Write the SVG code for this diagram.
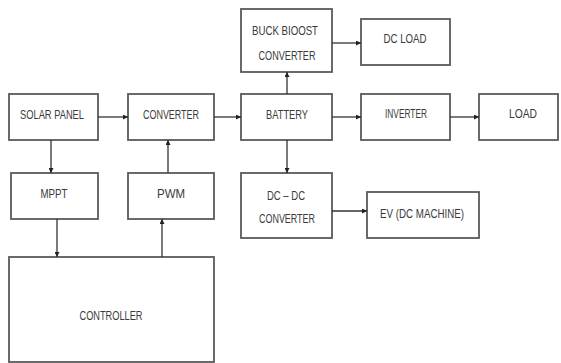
<svg xmlns="http://www.w3.org/2000/svg" width="561" height="363" viewBox="0 0 561 363">
<style>
.box{fill:#fff;stroke:#5a5a5a;stroke-width:1.8}
.lbl{font-family:"Liberation Sans",Arial,sans-serif;font-size:13px;fill:#3a3a3a;text-anchor:middle}
.con{stroke:#333;stroke-width:1.3;fill:none;marker-end:url(#ah)}
</style>
<defs>
<marker id="ah" viewBox="0 0 10 10" refX="10" refY="5" markerWidth="6" markerHeight="5" markerUnits="userSpaceOnUse" orient="auto">
<path d="M0,0 L10,5 L0,10 z" fill="#222"/>
</marker>
</defs>
<rect width="561" height="363" fill="#fff"/>
<g id="solar"><rect class="box" x="9" y="94" width="89" height="46"/><text class="lbl" x="52" y="119" textLength="64" lengthAdjust="spacingAndGlyphs">SOLAR PANEL</text></g>
<g id="converter"><rect class="box" x="128" y="94" width="86" height="46"/><text class="lbl" x="171" y="119" textLength="56" lengthAdjust="spacingAndGlyphs">CONVERTER</text></g>
<g id="battery"><rect class="box" x="241" y="94" width="91" height="46"/><text class="lbl" x="287" y="119" textLength="42" lengthAdjust="spacingAndGlyphs">BATTERY</text></g>
<g id="inverter"><rect class="box" x="361" y="94" width="89" height="46"/><text class="lbl" x="406" y="118" textLength="42" lengthAdjust="spacingAndGlyphs">INVERTER</text></g>
<g id="load"><rect class="box" x="479" y="94" width="79" height="46"/><text class="lbl" x="523" y="118" textLength="28" lengthAdjust="spacingAndGlyphs">LOAD</text></g>
<g id="buckboost"><rect class="box" x="241" y="9" width="91" height="63"/><text class="lbl" x="285" y="35" textLength="66" lengthAdjust="spacingAndGlyphs">BUCK BIOOST</text><text class="lbl" x="287" y="60" textLength="57" lengthAdjust="spacingAndGlyphs">CONVERTER</text></g>
<g id="dcload"><rect class="box" x="361" y="19" width="89" height="46"/><text class="lbl" x="405" y="43" textLength="43" lengthAdjust="spacingAndGlyphs">DC LOAD</text></g>
<g id="mppt"><rect class="box" x="11" y="173" width="87" height="46"/><text class="lbl" x="54" y="198" textLength="27" lengthAdjust="spacingAndGlyphs">MPPT</text></g>
<g id="pwm"><rect class="box" x="128" y="173" width="86" height="46"/><text class="lbl" x="171" y="198" textLength="28" lengthAdjust="spacingAndGlyphs">PWM</text></g>
<g id="controller"><rect class="box" x="9" y="257" width="205" height="105"/><text class="lbl" x="111" y="320" textLength="63" lengthAdjust="spacingAndGlyphs">CONTROLLER</text></g>
<g id="dcdc"><rect class="box" x="241" y="173" width="91" height="65"/><text class="lbl" x="286" y="200" textLength="38" lengthAdjust="spacingAndGlyphs">DC – DC</text><text class="lbl" x="287" y="223" textLength="56" lengthAdjust="spacingAndGlyphs">CONVERTER</text></g>
<g id="ev"><rect class="box" x="367" y="192" width="112" height="46"/><text class="lbl" x="422" y="218" textLength="84" lengthAdjust="spacingAndGlyphs">EV (DC MACHINE)</text></g>
<g id="connectors">
<line class="con" x1="98" y1="117" x2="128" y2="117"/>
<line class="con" x1="214" y1="117" x2="241" y2="117"/>
<line class="con" x1="332" y1="117" x2="361" y2="117"/>
<line class="con" x1="450" y1="117" x2="479" y2="117"/>
<line class="con" x1="287" y1="94" x2="287" y2="72"/>
<line class="con" x1="332" y1="43" x2="361" y2="43"/>
<line class="con" x1="287" y1="140" x2="287" y2="173"/>
<line class="con" x1="332" y1="211" x2="367" y2="211"/>
<line class="con" x1="51" y1="140" x2="51" y2="173"/>
<line class="con" x1="57" y1="219" x2="57" y2="257"/>
<line class="con" x1="162" y1="257" x2="162" y2="219"/>
<line class="con" x1="168" y1="173" x2="168" y2="140"/>
</g>
</svg>
